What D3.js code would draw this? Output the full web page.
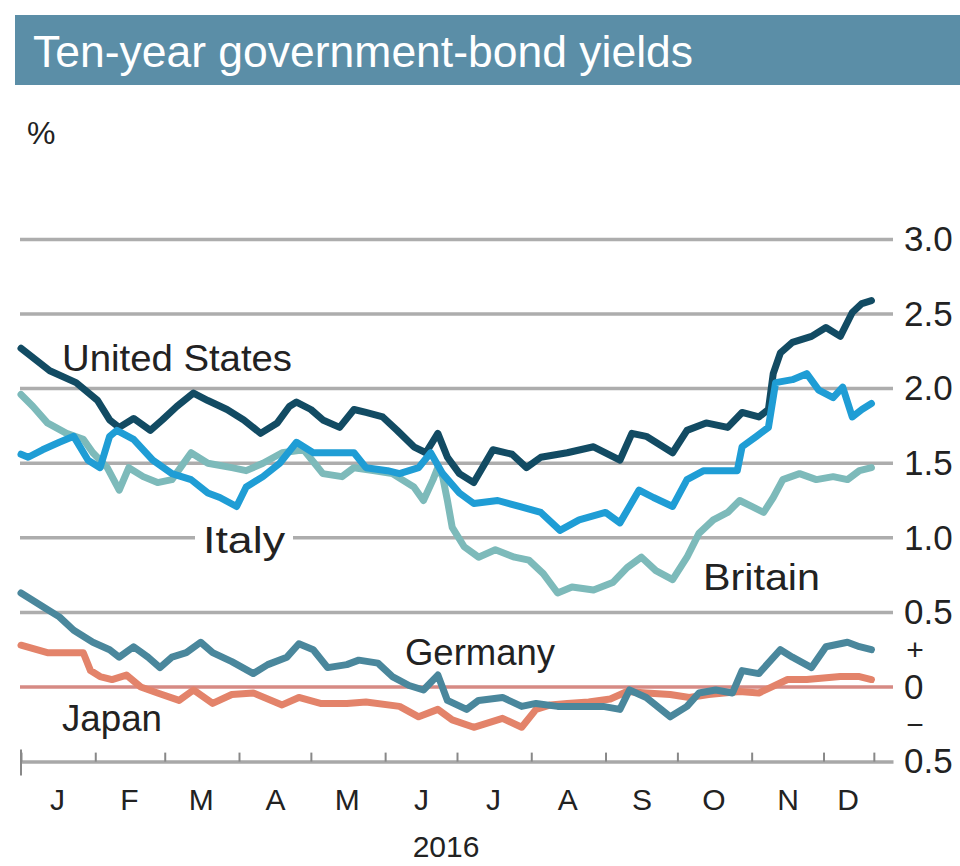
<!DOCTYPE html>
<html>
<head>
<meta charset="utf-8">
<script src="https://cdn.jsdelivr.net/npm/d3@7"></script>
<style>
  body { margin: 0; background: #fff; }
  svg { display: block; }
  text { font-family: "Liberation Sans", Arial, sans-serif; }
</style>
</head>
<body>
<svg id="chart" width="960" height="866"></svg>
<script>
// Ten-year government-bond yields, 2016, % (date, yield)
const unitedStates = [
  ["2016-01-01",2.27],["2016-01-13",2.12],["2016-01-24",2.04],["2016-02-02",1.92],
  ["2016-02-07",1.79],["2016-02-11",1.74],["2016-02-17",1.80],["2016-02-24",1.72],
  ["2016-02-29",1.79],["2016-03-06",1.88],["2016-03-13",1.97],["2016-03-19",1.92],
  ["2016-03-27",1.86],["2016-04-03",1.79],["2016-04-10",1.70],["2016-04-17",1.77],
  ["2016-04-22",1.88],["2016-04-25",1.91],["2016-05-01",1.86],["2016-05-06",1.79],
  ["2016-05-13",1.74],["2016-05-19",1.86],["2016-05-24",1.84],["2016-05-31",1.81],
  ["2016-06-06",1.72],["2016-06-13",1.61],["2016-06-18",1.57],["2016-06-23",1.70],
  ["2016-06-27",1.54],["2016-07-02",1.43],["2016-07-08",1.37],["2016-07-16",1.59],
  ["2016-07-24",1.56],["2016-07-30",1.47],["2016-08-05",1.54],["2016-08-16",1.57],
  ["2016-08-27",1.61],["2016-09-07",1.52],["2016-09-12",1.70],["2016-09-18",1.68],
  ["2016-09-29",1.57],["2016-10-05",1.72],["2016-10-13",1.77],["2016-10-22",1.74],
  ["2016-10-28",1.84],["2016-11-04",1.81],["2016-11-08",1.86],["2016-11-10",2.10],
  ["2016-11-13",2.24],["2016-11-18",2.31],["2016-11-26",2.35],["2016-12-02",2.41],
  ["2016-12-08",2.35],["2016-12-13",2.51],["2016-12-17",2.57],["2016-12-21",2.59]
];

const italy = [
  ["2016-01-01",1.56],["2016-01-04",1.54],["2016-01-10",1.59],["2016-01-17",1.64],
  ["2016-01-23",1.68],["2016-01-29",1.52],["2016-02-03",1.47],["2016-02-07",1.68],
  ["2016-02-10",1.72],["2016-02-17",1.66],["2016-02-25",1.52],["2016-03-04",1.43],
  ["2016-03-12",1.39],["2016-03-19",1.30],["2016-03-24",1.27],["2016-03-31",1.21],
  ["2016-04-04",1.34],["2016-04-11",1.41],["2016-04-18",1.50],["2016-04-25",1.64],
  ["2016-05-02",1.57],["2016-05-10",1.57],["2016-05-19",1.57],["2016-05-24",1.47],
  ["2016-06-02",1.45],["2016-06-07",1.43],["2016-06-15",1.47],["2016-06-20",1.57],
  ["2016-06-25",1.43],["2016-07-02",1.30],["2016-07-08",1.23],["2016-07-18",1.25],
  ["2016-07-27",1.21],["2016-08-05",1.17],["2016-08-13",1.05],["2016-08-21",1.12],
  ["2016-09-01",1.17],["2016-09-07",1.10],["2016-09-15",1.32],["2016-09-21",1.27],
  ["2016-09-29",1.21],["2016-10-05",1.39],["2016-10-12",1.45],["2016-10-20",1.45],
  ["2016-10-26",1.45],["2016-10-28",1.61],["2016-11-03",1.68],["2016-11-08",1.74],
  ["2016-11-11",2.04],["2016-11-18",2.06],["2016-11-24",2.10],["2016-11-29",1.99],
  ["2016-12-05",1.94],["2016-12-09",2.01],["2016-12-13",1.81],["2016-12-17",1.86],
  ["2016-12-21",1.90]
];

const britain = [
  ["2016-01-01",1.96],["2016-01-06",1.88],["2016-01-12",1.77],["2016-01-20",1.70],
  ["2016-01-27",1.66],["2016-01-31",1.57],["2016-02-06",1.47],["2016-02-11",1.32],
  ["2016-02-15",1.47],["2016-02-21",1.41],["2016-02-27",1.37],["2016-03-04",1.39],
  ["2016-03-12",1.57],["2016-03-19",1.50],["2016-03-29",1.47],["2016-04-04",1.45],
  ["2016-04-11",1.50],["2016-04-19",1.57],["2016-04-28",1.59],["2016-05-06",1.43],
  ["2016-05-14",1.41],["2016-05-19",1.47],["2016-05-27",1.45],["2016-06-04",1.43],
  ["2016-06-13",1.34],["2016-06-17",1.25],["2016-06-21",1.39],["2016-06-23",1.47],
  ["2016-06-25",1.41],["2016-06-27",1.25],["2016-06-29",1.07],["2016-07-04",0.94],
  ["2016-07-10",0.87],["2016-07-17",0.92],["2016-07-25",0.87],["2016-07-31",0.85],
  ["2016-08-06",0.76],["2016-08-12",0.63],["2016-08-18",0.67],["2016-08-27",0.65],
  ["2016-09-04",0.70],["2016-09-10",0.80],["2016-09-16",0.87],["2016-09-22",0.78],
  ["2016-09-29",0.72],["2016-10-05",0.87],["2016-10-10",1.03],["2016-10-16",1.12],
  ["2016-10-22",1.17],["2016-10-27",1.25],["2016-11-01",1.21],["2016-11-06",1.17],
  ["2016-11-10",1.27],["2016-11-14",1.39],["2016-11-21",1.43],["2016-11-28",1.39],
  ["2016-12-05",1.41],["2016-12-11",1.39],["2016-12-16",1.45],["2016-12-21",1.47]
];

const germany = [
  ["2016-01-01",0.63],["2016-01-10",0.54],["2016-01-17",0.47],["2016-01-23",0.38],
  ["2016-01-31",0.30],["2016-02-07",0.25],["2016-02-11",0.20],["2016-02-17",0.27],
  ["2016-02-23",0.20],["2016-02-28",0.13],["2016-03-04",0.20],["2016-03-10",0.23],
  ["2016-03-16",0.30],["2016-03-21",0.23],["2016-03-29",0.17],["2016-04-07",0.09],
  ["2016-04-13",0.15],["2016-04-21",0.20],["2016-04-26",0.29],["2016-05-02",0.25],
  ["2016-05-08",0.13],["2016-05-16",0.15],["2016-05-21",0.18],["2016-05-29",0.16],
  ["2016-06-04",0.07],["2016-06-11",0.01],["2016-06-17",-0.02],["2016-06-23",0.08],
  ["2016-06-27",-0.09],["2016-07-05",-0.15],["2016-07-10",-0.09],["2016-07-20",-0.07],
  ["2016-07-28",-0.13],["2016-08-03",-0.11],["2016-08-12",-0.13],["2016-08-21",-0.13],
  ["2016-08-31",-0.13],["2016-09-07",-0.15],["2016-09-11",-0.02],["2016-09-18",-0.07],
  ["2016-09-28",-0.20],["2016-10-05",-0.13],["2016-10-10",-0.04],["2016-10-17",-0.02],
  ["2016-10-24",-0.04],["2016-10-28",0.11],["2016-11-04",0.09],["2016-11-13",0.25],
  ["2016-11-18",0.20],["2016-11-26",0.13],["2016-12-02",0.27],["2016-12-11",0.30],
  ["2016-12-16",0.27],["2016-12-21",0.25]
];

const japan = [
  ["2016-01-01",0.28],["2016-01-12",0.23],["2016-01-20",0.23],["2016-01-27",0.23],
  ["2016-01-30",0.11],["2016-02-03",0.07],["2016-02-08",0.05],["2016-02-14",0.08],
  ["2016-02-20",0.00],["2016-02-27",-0.04],["2016-03-07",-0.09],["2016-03-13",-0.02],
  ["2016-03-21",-0.11],["2016-03-29",-0.05],["2016-04-07",-0.04],["2016-04-19",-0.12],
  ["2016-04-26",-0.07],["2016-05-05",-0.11],["2016-05-16",-0.11],["2016-05-24",-0.10],
  ["2016-06-07",-0.13],["2016-06-15",-0.20],["2016-06-23",-0.15],["2016-06-29",-0.22],
  ["2016-07-08",-0.27],["2016-07-20",-0.21],["2016-07-28",-0.27],["2016-08-03",-0.15],
  ["2016-08-09",-0.12],["2016-08-16",-0.11],["2016-08-25",-0.10],["2016-09-03",-0.08],
  ["2016-09-10",-0.03],["2016-09-18",-0.04],["2016-09-28",-0.05],["2016-10-06",-0.07],
  ["2016-10-14",-0.05],["2016-10-27",-0.03],["2016-11-04",-0.04],["2016-11-16",0.05],
  ["2016-11-24",0.05],["2016-12-08",0.07],["2016-12-16",0.07],["2016-12-21",0.05]
];

// Axis ticks and labels
const yTickValues = [3.0, 2.5, 2.0, 1.5, 1.0, 0.5, 0, -0.5];
const gridValues = [3.0, 2.5, 2.0, 1.5, 1.0, 0.5];
const monthTickDates = ["2016-01-01","2016-02-01","2016-03-01","2016-04-01","2016-05-01",
  "2016-06-01","2016-07-01","2016-08-01","2016-09-01","2016-10-01","2016-11-01",
  "2016-12-01","2016-12-22"];
const monthLabelDates = ["2016-01-16","2016-02-15","2016-03-16","2016-04-16","2016-05-16",
  "2016-06-16","2016-07-16","2016-08-16","2016-09-16","2016-10-16","2016-11-16","2016-12-11"];
const monthLabels = ["J","F","M","A","M","J","J","A","S","O","N","D"];
const titleText = "Ten-year government-bond yields";
const unitText = "%";
const yearText = "2016";

const parse = d3.timeParse("%Y-%m-%d");
const toPoints = arr => arr.map(([d, v]) => ({ date: parse(d), value: v }));

const svg = d3.select("#chart");

const x = d3.scaleTime()
  .domain([parse("2016-01-01"), parse("2016-12-30")])
  .range([21, 893]);
const y = d3.scaleLinear()
  .domain([-0.5, 3.0])
  .range([761.6, 239.4]);

// Title band
svg.append("rect")
  .attr("x", 15).attr("y", 15).attr("width", 945).attr("height", 70)
  .attr("fill", "#5b8ea7");
svg.append("text")
  .attr("x", 33).attr("y", 67)
  .attr("font-size", 44)
  .attr("fill", "#fff")
  .attr("textLength", 660).attr("lengthAdjust", "spacingAndGlyphs")
  .text(titleText);

svg.append("text")
  .attr("x", 27).attr("y", 144)
  .attr("font-size", 32).attr("fill", "#222")
  .text(unitText);

// Horizontal gridlines
svg.append("g")
  .selectAll("line")
  .data(gridValues)
  .join("line")
  .attr("x1", 20).attr("x2", 893)
  .attr("y1", d => y(d)).attr("y2", d => y(d))
  .attr("stroke", "#adadad").attr("stroke-width", 3.5);

// Zero line
svg.append("line")
  .attr("x1", 20).attr("x2", 893)
  .attr("y1", y(0)).attr("y2", y(0))
  .attr("stroke", "#d68a84").attr("stroke-width", 3.5);

// Right-hand value axis
const yAxis = d3.axisRight(y)
  .tickValues(yTickValues)
  .tickSize(0).tickPadding(0)
  .tickFormat(d => d === 0 ? "0" : d3.format(".1f")(Math.abs(d)));
const gy = svg.append("g").attr("transform", "translate(904,0)").call(yAxis);
gy.select(".domain").remove();
gy.selectAll("text")
  .attr("font-size", 35).attr("fill", "#222")
  .attr("font-family", "'Liberation Sans', Arial, sans-serif");

svg.append("text")
  .attr("x", 915).attr("y", y(0.25)).attr("dy", "0.35em")
  .attr("text-anchor", "middle").attr("font-size", 30).attr("fill", "#222")
  .text("+");
svg.append("text")
  .attr("x", 915).attr("y", y(-0.25)).attr("dy", "0.35em")
  .attr("text-anchor", "middle").attr("font-size", 30).attr("fill", "#222")
  .text("\u2212");

// Time axis: baseline with upward month ticks
const xTicks = d3.axisTop(x)
  .tickValues(monthTickDates.map(parse))
  .tickSize(9).tickSizeOuter(0)
  .tickFormat("");
const gx = svg.append("g").attr("transform", `translate(0,${y(-0.5)})`).call(xTicks);
gx.select(".domain").attr("stroke", "#a8a8a8").attr("stroke-width", 3.5);
gx.selectAll(".tick line").attr("stroke", "#888").attr("stroke-width", 2);
gx.append("line")
  .attr("x1", x(parse("2016-01-01"))).attr("x2", x(parse("2016-01-01")))
  .attr("y1", -12).attr("y2", 14)
  .attr("stroke", "#888").attr("stroke-width", 2);

const xLabels = d3.axisBottom(x)
  .tickValues(monthLabelDates.map(parse))
  .tickSize(0).tickPadding(0)
  .tickFormat((d, i) => monthLabels[i]);
const gl = svg.append("g").attr("transform", "translate(0,789)").call(xLabels);
gl.select(".domain").remove();
gl.selectAll("text")
  .attr("font-size", 30).attr("fill", "#222")
  .attr("font-family", "'Liberation Sans', Arial, sans-serif");

svg.append("text")
  .attr("x", 446).attr("y", 857)
  .attr("text-anchor", "middle").attr("font-size", 30).attr("fill", "#222")
  .text(yearText);

// Series lines
const line = d3.line()
  .x(d => x(d.date))
  .y(d => y(d.value));

const series = [
  { name: "Japan", data: japan, color: "#e3836a" },
  { name: "Germany", data: germany, color: "#4a879c" },
  { name: "Britain", data: britain, color: "#7dbaba" },
  { name: "United States", data: unitedStates, color: "#124b63" },
  { name: "Italy", data: italy, color: "#1f9dd5" }
];

svg.append("g")
  .selectAll("path")
  .data(series)
  .join("path")
  .attr("d", d => line(toPoints(d.data)))
  .attr("fill", "none")
  .attr("stroke", d => d.color)
  .attr("stroke-width", 7)
  .attr("stroke-linejoin", "round")
  .attr("stroke-linecap", "round");

// Series labels
const labels = [
  { text: "United States", x: 62, y: 371, len: 230 },
  { text: "Italy", x: 203, y: 553, len: 82, knockout: true },
  { text: "Britain", x: 703, y: 590, len: 117 },
  { text: "Germany", x: 405, y: 665, len: 150 },
  { text: "Japan", x: 62, y: 731, len: 100 }
];

labels.filter(d => d.knockout).forEach(d => {
  svg.append("rect")
    .attr("x", d.x - 8).attr("y", y(1.0) - 4)
    .attr("width", d.len + 16).attr("height", 8)
    .attr("fill", "#fff");
});

svg.append("g")
  .selectAll("text")
  .data(labels)
  .join("text")
  .attr("x", d => d.x).attr("y", d => d.y)
  .attr("font-size", 36).attr("fill", "#222")
  .attr("textLength", d => d.len).attr("lengthAdjust", "spacingAndGlyphs")
  .text(d => d.text);
</script>
</body>
</html>
